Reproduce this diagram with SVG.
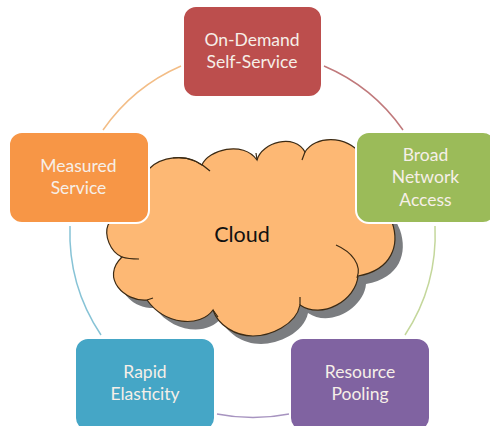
<svg xmlns="http://www.w3.org/2000/svg" width="490" height="426" viewBox="0 0 490 426">
<style>
.box{stroke:#fff;stroke-width:2}
.lbl{font-family:"Lato","Open Sans",sans-serif;font-size:17.500px;fill:#f6efe8;text-anchor:middle}
.arc{fill:none;stroke-width:1.500}
.cl{fill:none;stroke:#3b2a14;stroke-width:1.200}
</style>
<defs>
<path id="cloudShape" d="M150 168C160 158 185 152 202 165C208 150 243 140 257 160C262 142 295 133 305 152C315 136 345 134 362 155L392 222C400 245 392 270 358 276C356 300 322 320 300 305C296 325 270 336 253 336C235 336 218 325 213 310C200 328 165 325 147 300C125 302 100 278 122 257C110 252 104 235 108 225Z"/>
</defs>
<g id="connectors">
<path class="arc" stroke="#f3bd86" d="M181 66A184 184 0 0 0 103 130"/>
<path class="arc" stroke="#c0797b" d="M324 66A184 184 0 0 1 403 130"/>
<path class="arc" stroke="#c4d79b" d="M435 226A184 184 0 0 1 405 335"/>
<path class="arc" stroke="#a794c0" d="M289 414A184 184 0 0 1 217 414"/>
<path class="arc" stroke="#87c3d6" d="M101 335A184 184 0 0 1 70 226"/>
</g>
<g id="cloud">
<use href="#cloudShape" transform="translate(8 8)" fill="#7b7d80"/>
<use href="#cloudShape" fill="#fdb874" stroke="#3b2a14" stroke-width="1.200"/>
<path class="cl" d="M173 158C188 156 200 162 210 171M257 160L256 153M305 152L302 160M336 245C352 252 362 265 357 278M300 305L300 297M213 310L218 317M147 300L153 298M122 257C128 259 134 259 139 259"/>
<text x="242" y="242" font-family="Lato,'Open Sans',sans-serif" font-size="21.500" fill="#111" text-anchor="middle">Cloud</text>
</g>
<g id="on-demand">
<rect class="box" x="183" y="6" width="139" height="91" rx="13" fill="#bc4e4d"/>
<text class="lbl" x="252" y="46">On-Demand</text>
<text class="lbl" x="252" y="68">Self-Service</text>
</g>
<g id="measured">
<rect class="box" x="9" y="132" width="140" height="91" rx="13" fill="#f79646"/>
<text class="lbl" x="78.500" y="172">Measured</text>
<text class="lbl" x="78.500" y="194">Service</text>
</g>
<g id="broad">
<rect class="box" x="356" y="132" width="140" height="91" rx="13" fill="#9bbb59"/>
<text class="lbl" x="425.500" y="161">Broad</text>
<text class="lbl" x="425.500" y="183">Network</text>
<text class="lbl" x="425.500" y="206">Access</text>
</g>
<g id="rapid">
<rect class="box" x="75" y="338" width="140" height="93" rx="13" fill="#45a6c6"/>
<text class="lbl" x="145" y="378">Rapid</text>
<text class="lbl" x="145" y="400">Elasticity</text>
</g>
<g id="resource">
<rect class="box" x="290" y="338" width="140" height="93" rx="13" fill="#8063a1"/>
<text class="lbl" x="360" y="378">Resource</text>
<text class="lbl" x="360" y="400">Pooling</text>
</g>
</svg>
